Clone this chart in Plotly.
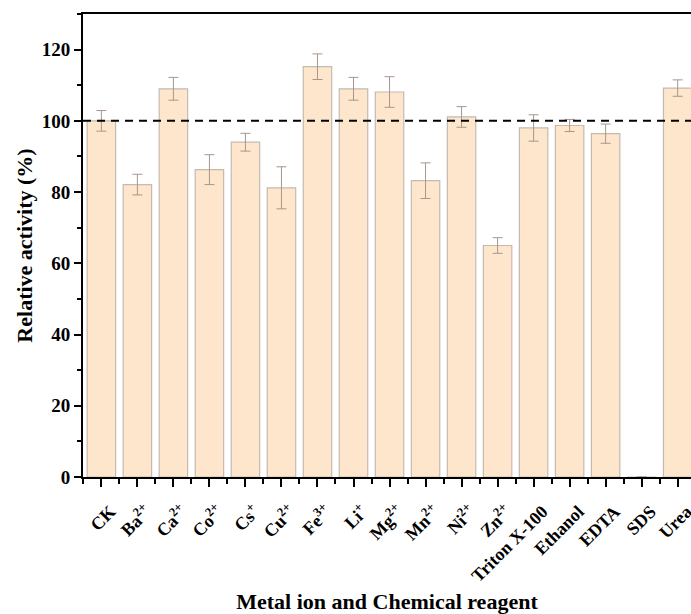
import plotly.graph_objects as go

# Relative enzyme activity after treatment with metal ions and chemical reagents
labels = ["CK", "Ba<sup>2+</sup>", "Ca<sup>2+</sup>", "Co<sup>2+</sup>", "Cs<sup>+</sup>",
          "Cu<sup>2+</sup>", "Fe<sup>3+</sup>", "Li<sup>+</sup>", "Mg<sup>2+</sup>",
          "Mn<sup>2+</sup>", "Ni<sup>2+</sup>", "Zn<sup>2+</sup>", "Triton X-100",
          "Ethanol", "EDTA", "SDS", "Urea"]
activity = [100.0, 82.1, 109.0, 86.3, 94.0, 81.2, 115.2, 109.0, 108.1,
            83.2, 101.1, 65.0, 98.0, 98.7, 96.4, 0.0, 109.2]
error = [2.9, 2.9, 3.2, 4.2, 2.5, 5.9, 3.6, 3.2, 4.3,
         5.0, 2.9, 2.2, 3.7, 1.7, 2.7, 0.0, 2.3]
y_ticks = [0, 20, 40, 60, 80, 100, 120]
reference_level = 100

positions = list(range(len(labels)))
font_family = "Liberation Serif"

fig = go.Figure()
fig.add_trace(go.Bar(
    x=positions,
    y=activity,
    width=0.79,
    marker=dict(color="#FDE6CB", line=dict(color="#C4BAB0", width=1.2)),
    error_y=dict(type="data", array=error, visible=True,
                 color="#A8968C", thickness=1, width=5),
    showlegend=False,
))

# dashed reference line at the control level
fig.add_shape(type="line", xref="paper", x0=0, x1=1,
              yref="y", y0=reference_level, y1=reference_level,
              line=dict(color="black", width=2, dash="8px,6px"))

fig.update_layout(
    width=691, height=614,
    margin=dict(l=83, r=0, t=14, b=137),
    paper_bgcolor="white", plot_bgcolor="white",
    font=dict(family=font_family, color="black"),
    bargap=0.21,
)

fig.update_xaxes(
    range=[-0.51, 16.37],
    automargin=False,
    tickmode="array", tickvals=positions, ticktext=["<b>" + t + "</b>" for t in labels],
    tickangle=-45,
    tickfont=dict(family=font_family, size=18, color="black"),
    ticklabelshift=9, ticklabelstandoff=7, ticklabeloverflow="allow",
    ticks="outside", ticklen=8, tickwidth=1.5, tickcolor="black",
    minor=dict(ticks="outside", ticklen=5, tickwidth=1.5, tickcolor="black",
               tick0=0.5, dtick=1),
    showline=True, linecolor="black", linewidth=2, mirror=True,
    showgrid=False, zeroline=False,
    title=dict(text="<b>Metal ion and Chemical reagent</b>",
               font=dict(family=font_family, size=22, color="black"), standoff=10),
)

fig.update_yaxes(
    range=[0, 130],
    automargin=False,
    tickmode="array", tickvals=y_ticks, ticktext=["<b>%d</b>" % v for v in y_ticks],
    tickfont=dict(family=font_family, size=19, color="black"),
    ticks="outside", ticklen=7, tickwidth=1.5, tickcolor="black",
    minor=dict(ticks="outside", ticklen=4, tickwidth=1.5, tickcolor="black",
               tick0=10, dtick=20),
    showline=True, linecolor="black", linewidth=2, mirror=False,
    showgrid=False, zeroline=False,
    title=dict(text="<b>Relative activity (%)</b>",
               font=dict(family=font_family, size=22, color="black"), standoff=3),
)

fig.write_html("out.html")
